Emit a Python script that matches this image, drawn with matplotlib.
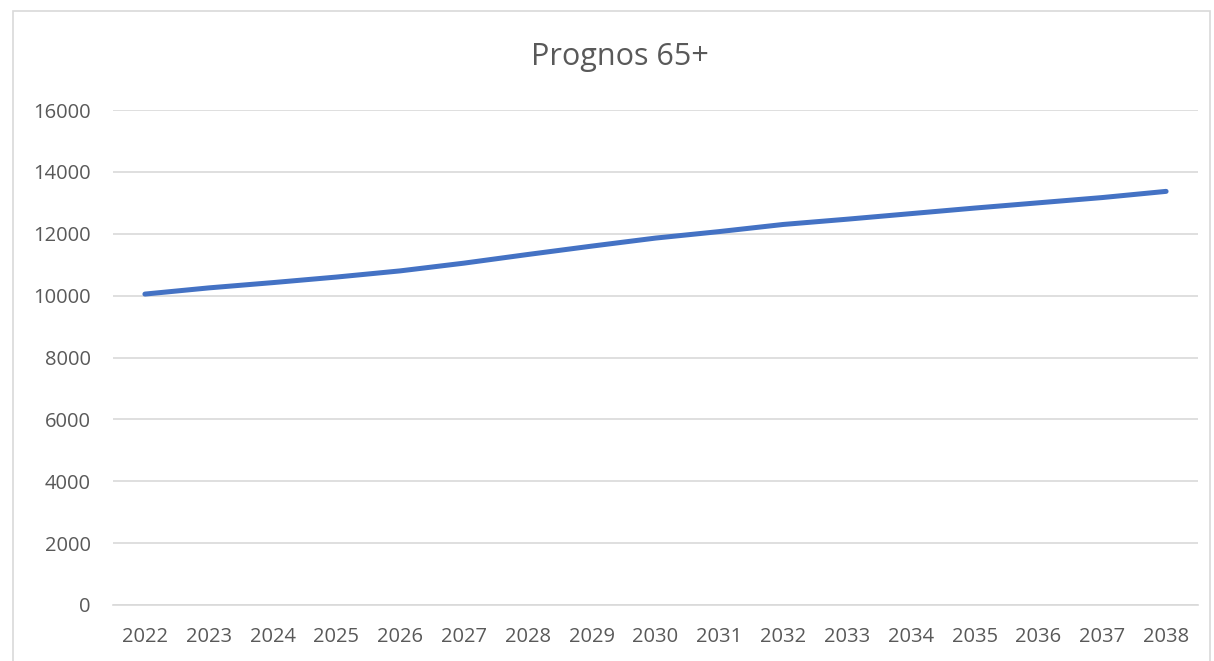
"""Prognos 65+ line chart, Excel-style."""

import matplotlib

matplotlib.use("Agg")

import matplotlib.pyplot as plt  # noqa: E402
from matplotlib.patches import Rectangle  # noqa: E402

YEARS = [str(y) for y in range(2022, 2039)]
VALUES = [
    10050, 10250, 10420, 10600, 10800, 11050, 11330, 11600, 11860,
    12070, 12300, 12470, 12650, 12830, 13000, 13170, 13370,
]
Y_TICKS = [0, 2000, 4000, 6000, 8000, 10000, 12000, 14000, 16000]

TEXT_COLOR = "#595959"
GRID_COLOR = "#D9D9D9"
LINE_COLOR = "#4472C4"

plt.rcParams["font.family"] = ["Open Sans", "DejaVu Sans"]

fig = plt.figure(figsize=(12.14, 6.61), dpi=100)
ax = fig.add_axes((113 / 1214, 1 - 605 / 661, 1085 / 1214, 495 / 661))

x = range(len(YEARS))
ax.plot(x, VALUES, color=LINE_COLOR, linewidth=3.6, solid_capstyle="round")

ax.set_xlim(-0.5, len(YEARS) - 0.5)
ax.set_ylim(0, 16000)
ax.set_yticks(Y_TICKS)
ax.set_yticklabels([str(v) for v in Y_TICKS])
ax.set_xticks(list(x))
ax.set_xticklabels(YEARS)
ax.tick_params(axis="both", length=0, labelsize=14.5, colors=TEXT_COLOR)
ax.tick_params(axis="y", pad=16)
ax.tick_params(axis="x", pad=16)
ax.grid(axis="y", color=GRID_COLOR, linewidth=1.2)
ax.set_axisbelow(True)
for side in ("left", "right", "top"):
    ax.spines[side].set_visible(False)
ax.spines["bottom"].set_color(GRID_COLOR)
ax.spines["bottom"].set_linewidth(1.2)

fig.text(620 / 1214, 1 - 57 / 661, "Prognos 65+", ha="center", va="center",
         fontsize=22, color=TEXT_COLOR)

# chart area border
fig.patches.append(Rectangle((13 / 1214, -0.05), 1197 / 1214, 1.05 - 11 / 661,
                             transform=fig.transFigure, fill=False,
                             edgecolor=GRID_COLOR, linewidth=1.2))

fig.savefig("out.png", dpi=100, facecolor="white")
